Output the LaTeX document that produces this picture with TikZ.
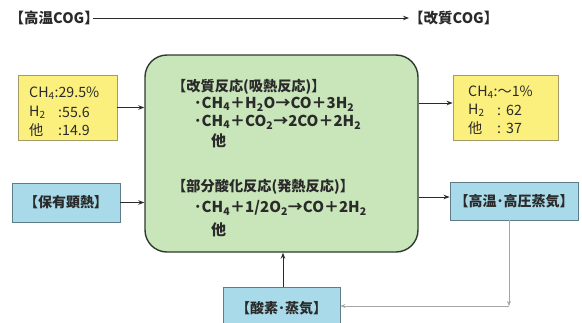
\documentclass[tikz,border=0pt]{standalone}
\usepackage{fontspec}
\setmainfont{Noto Sans CJK JP}
\usetikzlibrary{arrows.meta,calc}
\definecolor{ylw}{HTML}{FBEF7E}
\definecolor{ylwb}{HTML}{A39C6A}
\definecolor{grn}{HTML}{C9E5BA}
\definecolor{grnb}{HTML}{2E3A2E}
\definecolor{blu}{HTML}{A9DAEA}
\definecolor{blub}{HTML}{5E7C88}
\definecolor{txt}{HTML}{2A2A2A}
\begin{document}
\begin{tikzpicture}[x=1pt,y=-1pt,
  every node/.style={text=txt, inner sep=0pt},
  top/.style={font=\fontsize{14.5}{16}\selectfont\bfseries},
  hdr/.style={font=\fontsize{14.2}{16}\selectfont\bfseries},
  big/.style={font=\fontsize{15}{17}\selectfont\bfseries},
  ytx/.style={font=\fontsize{14.2}{16}\selectfont},
  ybox/.style={draw=ylwb, fill=ylw, line width=0.8pt},
  bbox/.style={draw=blub, fill=blu, line width=0.8pt, font=\fontsize{14}{16}\selectfont\bfseries},
  arr/.style={draw=txt, line width=1pt, -{Stealth[length=6pt,width=4.5pt]}},
  garr/.style={draw=gray!70, line width=0.6pt, -{Stealth[length=5pt,width=4pt]}}
]
\useasboundingbox (0,0) rectangle (582,322);

% top
\node[top, anchor=east] (tin) at (99,18) {【高温COG】};
\node[top, anchor=west] (tout) at (409,18) {【改質COG】};
\draw[arr] ($(tin.east)+(-6,0)$) -- (tout.west);

% main
\node[draw=grnb, fill=grn, line width=1.4pt, rounded corners=22pt,
      minimum width=273pt, minimum height=197pt] (main) at (281.5,153.5) {};
\node[hdr, anchor=west] (h1) at (172,87) {【改質反応(吸熱反応)】};
\node[big, anchor=west] (e1) at (194,104) {･CH\textsubscript{4}＋H\textsubscript{2}O→CO＋3H\textsubscript{2}};
\node[big, anchor=west] (e2) at (194,122) {･CH\textsubscript{4}＋CO\textsubscript{2}→2CO＋2H\textsubscript{2}};
\node[big, anchor=west] (o1) at (211,141) {他};
\node[hdr, anchor=west] (h2) at (172,187) {【部分酸化反応(発熱反応)】};
\node[big, anchor=west] (e3) at (194,208) {･CH\textsubscript{4}＋1/2O\textsubscript{2}→CO＋2H\textsubscript{2}};
\node[big, anchor=west] (o2) at (211,230) {他};

% yellow left
\node[ybox, minimum width=99pt, minimum height=65pt] (yl) at (67.5,107.5) {};
\node[ytx, anchor=west] (yl1) at (29,93) {CH\textsubscript{4}:29.5\%};
\node[ytx, anchor=west] (yl2) at (29,112) {H\textsubscript{2}};
\node[ytx, anchor=west] (yl2v) at (58,112) {:55.6};
\node[ytx, anchor=west] (yl3) at (29,130) {他};
\node[ytx, anchor=west] (yl3v) at (58,130) {:14.9};

% yellow right
\node[ybox, minimum width=105pt, minimum height=65pt] (yr) at (505.5,107.5) {};
\node[ytx, anchor=west] (yr1) at (468,92) {CH\textsubscript{4}:～1\%};
\node[ytx, anchor=west] (yr2) at (468,110) {H\textsubscript{2}};
\node[ytx, anchor=west] (yr2v) at (497,110) {:\hspace{5pt}62};
\node[ytx, anchor=west] (yr3) at (468,128) {他};
\node[ytx, anchor=west] (yr3v) at (497,128) {:\hspace{5pt}37};

% blue boxes
\node[bbox, minimum width=108pt, minimum height=39pt] (bl) at (66,202.5) {【保有顕熱】};
\node[bbox, minimum width=128pt, minimum height=38pt] (br) at (514,201) {【高温･高圧蒸気】};
\node[bbox, minimum width=117pt, minimum height=42pt] (bb) at (281.5,308) {【酸素･蒸気】};
\coordinate (corner) at (509,306);

% connectors
\draw[arr] (yl.east) -- (yl.east -| main.west);
\draw[arr] (main.east |- 0,103) -- (yr.west |- 0,103);
\draw[arr] (bl.east) -- (bl.east -| main.west);
\draw[arr] (main.east |- 0,197) -- (br.west |- 0,197);
\draw[arr] (bb.north -| 283,0) -- (main.south -| 283,0);
\draw[garr] (br.south -| corner) -- (corner);
\draw[garr] (corner) -- (corner -| bb.east);
\end{tikzpicture}
\end{document}
